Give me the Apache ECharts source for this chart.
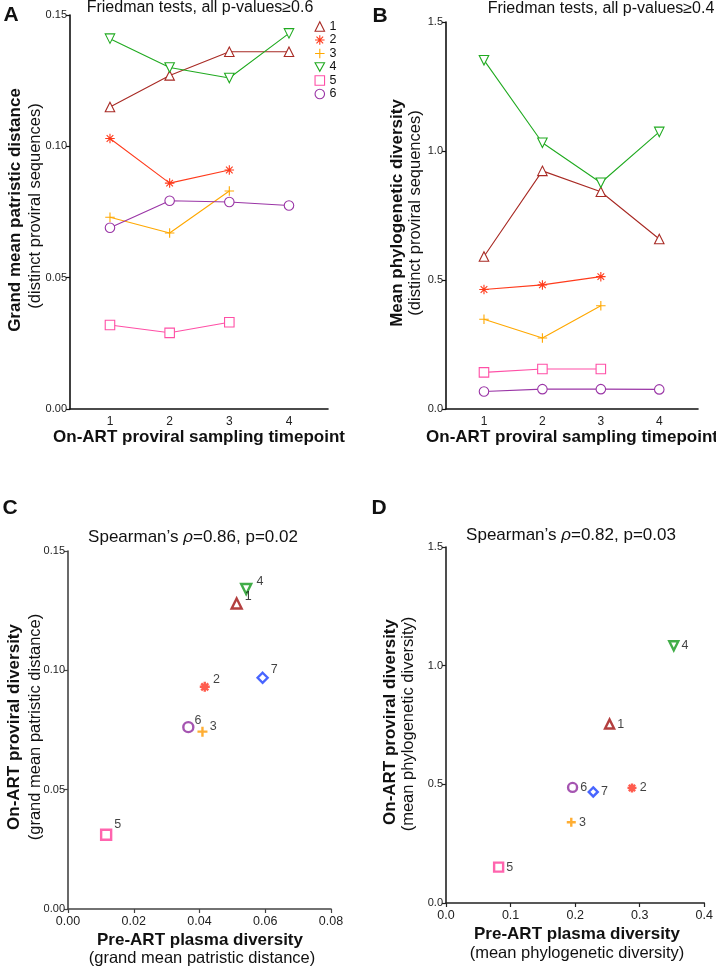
<!DOCTYPE html>
<html><head><meta charset="utf-8">
<script src="https://cdn.jsdelivr.net/npm/echarts@6/dist/echarts.min.js"></script>
<style>html,body{margin:0;padding:0;background:#fff}#c{width:716px;height:968px}</style>
</head><body><div id="c"></div>
<script>
// ---------- DATA ----------
const timepoints = [1, 2, 3, 4];
const patientIds = ['1', '2', '3', '4', '5', '6'];
// Panel A: grand mean patristic distance per timepoint
const gmpdP1 = [0.115, 0.127, 0.136, 0.136];
const gmpdP2 = [0.103, 0.086, 0.091, null];
const gmpdP3 = [0.073, 0.067, 0.083, null];
const gmpdP4 = [0.141, 0.130, 0.126, 0.143];
const gmpdP5 = [0.032, 0.029, 0.033, null];
const gmpdP6 = [0.069, 0.0793, 0.0788, 0.0775];
// Panel B: mean phylogenetic diversity per timepoint
const mpdP1 = [0.591, 0.923, 0.842, 0.659];
const mpdP2 = [0.463, 0.481, 0.513, null];
const mpdP3 = [0.348, 0.275, 0.400, null];
const mpdP4 = [1.352, 1.032, 0.877, 1.074];
const mpdP5 = [0.142, 0.155, 0.155, null];
const mpdP6 = [0.068, 0.077, 0.077, 0.076];
// Panels C, D: pre-ART plasma vs on-ART proviral diversity
const scatterIds = ['1', '2', '3', '4', '5', '6', '7'];
const preGMPD = [0.0513, 0.0416, 0.0409, 0.0542, 0.0116, 0.0366, 0.0592];
const onGMPD  = [0.1280, 0.0931, 0.0743, 0.1341, 0.0311, 0.0762, 0.0969];
const preMPD  = [0.2533, 0.288, 0.194, 0.3527, 0.0815, 0.196, 0.228];
const onMPD   = [0.754, 0.485, 0.340, 1.084, 0.151, 0.487, 0.468];
const yTicksA = [0, 0.05, 0.10, 0.15];
const yTicksB = [0, 0.5, 1.0, 1.5];

// ---------- STYLE ----------
const FONT = 'Liberation Sans, Arial, Helvetica, sans-serif';
const lineColors = ['#a82a24', '#ff3b1c', '#ffa800', '#20aa20', '#ff4fa6', '#9a35a6'];
const dotColors = ['#a00f0f', '#ff3322', '#ff9a00', '#12991a', '#ff3d9a', '#8e2a9e', '#1a3fff'];
const SYM = {
  tri: 'triangle',
  ast: 'path://M5,0L5,10M0,5L10,5M1.5,1.5L8.5,8.5M8.5,1.5L1.5,8.5',
  plus: 'path://M5,0L5,10M0,5L10,5',
  down: 'path://M0,0L10,0L5,9Z',
  rect: 'rect',
  circ: 'circle',
  dia: 'diamond'
};
const lineSyms = [SYM.tri, SYM.ast, SYM.plus, SYM.down, SYM.rect, SYM.circ];
const dotSyms = [SYM.tri, SYM.ast, SYM.plus, SYM.down, SYM.rect, SYM.circ, SYM.dia];

const chart = echarts.init(document.getElementById('c'), null, {renderer: 'canvas'});

function valAxis(gi, min, max, interval, dec, opts) {
  opts = opts || {};
  return Object.assign({
    type: 'value', gridIndex: gi, min: min, max: max, interval: interval,
    axisLine: {show: true, onZero: false, lineStyle: {color: opts.color || '#111', width: 1.6}},
    axisTick: {show: true, length: 4, lineStyle: {color: opts.color || '#111', width: 1.2}},
    axisLabel: {fontFamily: FONT, fontSize: opts.fs || 11, color: '#222', margin: 3,
      formatter: v => v.toFixed(dec)},
    splitLine: {show: false}
  }, opts.extra || {});
}
function timeAxis(gi, min, max) {
  return {
    type: 'value', gridIndex: gi, min: min, max: max,
    axisLine: {show: true, onZero: false, lineStyle: {color: '#111', width: 1.6}},
    axisTick: {show: false, customValues: timepoints},
    axisLabel: {fontFamily: FONT, fontSize: 12, color: '#222', margin: 7, customValues: timepoints,
      formatter: v => String(v)},
    splitLine: {show: false}
  };
}

const series = [];
const aSets = [gmpdP1, gmpdP2, gmpdP3, gmpdP4, gmpdP5, gmpdP6];
const bSets = [mpdP1, mpdP2, mpdP3, mpdP4, mpdP5, mpdP6];
function addLines(sets, gi) {
  sets.forEach((arr, i) => {
    const data = [];
    arr.forEach((v, k) => { if (v !== null) data.push([timepoints[k], v]); });
    series.push({
      name: patientIds[i], type: 'line', xAxisIndex: gi, yAxisIndex: gi,
      data: data, symbol: lineSyms[i], symbolSize: 9.5, showAllSymbol: true,
      color: lineColors[i],
      lineStyle: {color: lineColors[i], width: 1.1},
      itemStyle: {color: '#fff', borderColor: lineColors[i], borderWidth: 1.1},
      emphasis: {disabled: true}, animation: false, z: 3
    });
  });
}
addLines(aSets, 0);
addLines(bSets, 1);

function addScatter(xs, ys, gi, size, bw, offsets) {
  series.push({
    type: 'scatter', xAxisIndex: gi, yAxisIndex: gi, animation: false, z: 4,
    data: xs.map((x, i) => ({
      value: [x, ys[i]], name: scatterIds[i], symbol: dotSyms[i], symbolSize: size,
      itemStyle: {color: '#fff', borderColor: dotColors[i], borderWidth: bw},
      label: {show: true, position: 'right', distance: 2, offset: offsets[i],
        formatter: scatterIds[i], fontFamily: FONT, fontSize: 12.5, color: '#111'}
    })),
    emphasis: {disabled: true}
  });
}
addScatter(preGMPD, onGMPD, 2, 10, 2.4, [[0,-7],[0,-7],[-1,-5],[2,-7],[0,-10],[-2,-7],[0,-8]]);
addScatter(preMPD, onMPD, 3, 9, 2.4, [[0,0],[0,0],[0,0],[0,0],[0,0],[0,0],[0,0]]);

function vtext(x, y, text, fs, bold) {
  return {type: 'text', x: x, y: y, rotation: Math.PI / 2, silent: true,
    style: {text: text, fontFamily: FONT, fontSize: fs, fontWeight: bold ? 'bold' : 'normal',
      fill: '#111', align: 'center', verticalAlign: 'middle', textAlign: 'center', textVerticalAlign: 'middle'}};
}
function htext(x, y, text, fs, bold, rich) {
  const st = {text: text, fontFamily: FONT, fontSize: fs, fontWeight: bold ? 'bold' : 'normal',
    fill: '#111', align: 'center', verticalAlign: 'middle', textAlign: 'center', textVerticalAlign: 'middle'};
  if (rich) st.rich = rich;
  return {type: 'text', x: x, y: y, silent: true, style: st};
}
const rhoRich = {i: {fontFamily: FONT, fontSize: 17, fontStyle: 'italic', fill: '#111'}};

const option = {
  backgroundColor: '#fff',
  animation: false,
  grid: [
    {left: 70, top: 15, width: 258, height: 394},
    {left: 446, top: 22, width: 252, height: 387},
    {left: 68, top: 551, width: 263, height: 358},
    {left: 446, top: 547, width: 262, height: 356}
  ],
  xAxis: [
    timeAxis(0, 0.33, 4.654),
    timeAxis(1, 0.35, 4.663),
    valAxis(2, 0, 0.08, 0.02, 2, {color: '#444', extra: {axisLabel: {fontFamily: FONT, fontSize: 12.5, color: '#222', margin: 6, formatter: v => v.toFixed(2)}}}),
    valAxis(3, 0, 0.4, 0.1, 1, {color: '#222', extra: {axisLabel: {fontFamily: FONT, fontSize: 12.5, color: '#222', margin: 6, formatter: v => v.toFixed(1)}}})
  ],
  yAxis: [
    valAxis(0, yTicksA[0], yTicksA[3], yTicksA[1], 2),
    valAxis(1, yTicksB[0], yTicksB[3], yTicksB[1], 1),
    valAxis(2, yTicksA[0], yTicksA[3], yTicksA[1], 2, {color: '#444'}),
    valAxis(3, yTicksB[0], yTicksB[3], yTicksB[1], 1, {color: '#222'})
  ],
  legend: {
    orient: 'vertical', left: 314.5, top: 20, itemWidth: 9.5, itemHeight: 9.5, itemGap: 0.5,
    textStyle: {fontFamily: FONT, fontSize: 12.5, lineHeight: 12.5, color: '#111', padding: [0, 0, 0, 0]},
    itemStyle: {borderWidth: 1.1},
    padding: 0,
    data: patientIds.map((n, i) => ({name: n, icon: lineSyms[i]})),
    selectedMode: false
  },
  series: series,
  graphic: [
    htext(11, 15, 'A', 21, true),
    htext(380, 16, 'B', 21, true),
    htext(10, 508, 'C', 21, true),
    htext(379, 508, 'D', 21, true),
    htext(200, 8, 'Friedman tests, all p-values\u22650.6', 16, false),
    htext(601, 9, 'Friedman tests, all p-values\u22650.4', 16, false),
    htext(193, 537, 'Spearman\u2019s {i|\u03c1}=0.86, p=0.02', 17, false, rhoRich),
    htext(571, 535, 'Spearman\u2019s {i|\u03c1}=0.82, p=0.03', 17, false, rhoRich),
    vtext(15, 210, 'Grand mean patristic distance', 17, true),
    vtext(35, 206, '(distinct proviral sequences)', 16.5, false),
    vtext(397, 213, 'Mean phylogenetic diversity', 17, true),
    vtext(415, 213, '(distinct proviral sequences)', 16.5, false),
    htext(199, 437, 'On-ART proviral sampling timepoint', 17, true),
    htext(572, 437, 'On-ART proviral sampling timepoint', 17, true),
    vtext(14, 727, 'On-ART proviral diversity', 17, true),
    vtext(35, 727, '(grand mean patristic distance)', 16.5, false),
    vtext(390, 722, 'On-ART proviral diversity', 17, true),
    vtext(408, 724, '(mean phylogenetic diversity)', 16.5, false),
    htext(200, 940, 'Pre-ART plasma diversity', 17, true),
    htext(202, 958, '(grand mean patristic distance)', 16.5, false),
    htext(577, 934, 'Pre-ART plasma diversity', 17, true),
    htext(577, 953, '(mean phylogenetic diversity)', 16.5, false)
  ]
};
chart.setOption(option);
</script>
</body></html>
